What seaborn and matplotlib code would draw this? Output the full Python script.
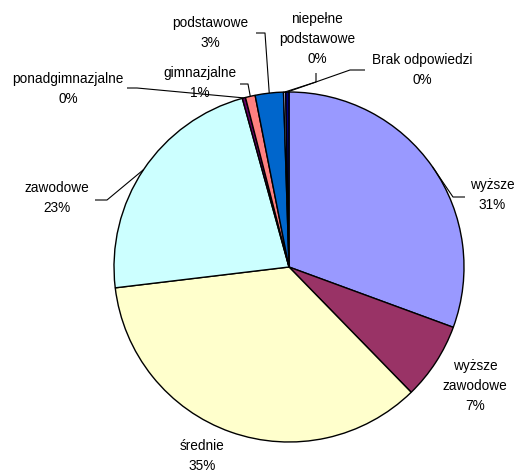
import numpy as np
import matplotlib
matplotlib.use("Agg")
import matplotlib.pyplot as plt
import seaborn as sns

# Education level shares (percent), clockwise from 12 o'clock
categories = ["wyższe", "wyższe\nzawodowe", "średnie", "zawodowe", "ponadgimnazjalne",
              "gimnazjalne", "podstawowe", "niepełne\npodstawowe", "Brak odpowiedzi"]
shares = [30.6, 7.1, 35.4, 22.6, 0.3, 0.9, 2.6, 0.2, 0.3]
hex_colors = ["#9999FF", "#993366", "#FFFFCC", "#CCFFFF", "#660066",
              "#FF8080", "#0066CC", "#CCCCFF", "#000080"]

sns.set_style("white")
plt.rcParams["font.family"] = ["Liberation Sans", "DejaVu Sans"]

W, H = 520, 474
fig = plt.figure(figsize=(W / 100, H / 100), dpi=100)
ax = fig.add_axes([0, 0, 1, 1])

cx, cy, R = 289, H - 267, 175
palette = sns.color_palette(hex_colors)
wedges, _ = ax.pie(shares, colors=palette, startangle=90, counterclock=False,
                   center=(cx, cy), radius=R, frame=True,
                   wedgeprops=dict(edgecolor="black", linewidth=1.0))
ax.set_xlim(0, W)
ax.set_ylim(0, H)
ax.set_aspect("equal")
ax.axis("off")

# label layout: text centre, leader elbow and leader end (pixel coords from top)
layout = {
    0: dict(text=(492, 195), elbow=(453, 197), end=(465, 197)),
    1: dict(text=(475, 386), elbow=None, end=None),
    2: dict(text=(202, 456), elbow=None, end=None),
    3: dict(text=(57, 198), elbow=(107, 200), end=(95, 200)),
    4: dict(text=(68, 89), elbow=(137, 88), end=(127, 88)),
    5: dict(text=(200, 83), elbow=(248, 84), end=(240, 84)),
    6: dict(text=(210, 33), elbow=(265, 33), end=(256, 33)),
    7: dict(text=(317, 39), elbow=(316, 82), end=(316, 73)),
    8: dict(text=(422, 70), elbow=(350, 70), end=(365, 70)),
}

for i, w in enumerate(wedges):
    mid = np.deg2rad((w.theta1 + w.theta2) / 2)
    ex, ey = cx + R * np.cos(mid), cy + R * np.sin(mid)
    spec = layout[i]
    label = f"{categories[i]}\n{round(shares[i]):.0f}%"
    tx, ty = spec["text"]
    ax.text(tx, H - ty, label, ha="center", va="center", fontsize=9.8,
            linespacing=1.55, color="black")
    if spec["elbow"] is not None:
        bx, by = spec["elbow"]
        qx, qy = spec["end"]
        ax.plot([ex, bx, qx], [ey, H - by, H - qy], color="black", lw=0.8,
                solid_capstyle="butt")

fig.savefig("out.png", dpi=100, facecolor="white")
